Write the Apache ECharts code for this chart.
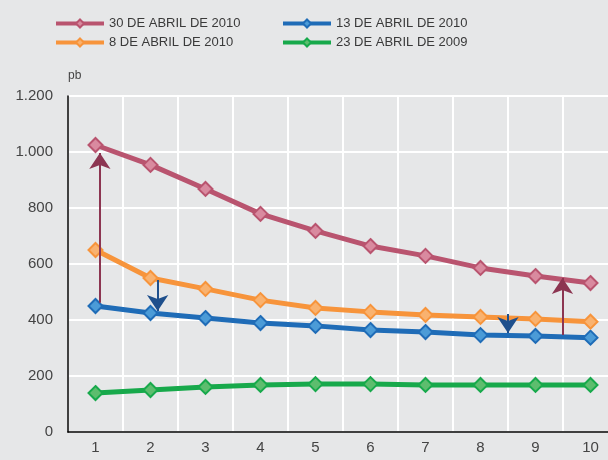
<!DOCTYPE html>
<html>
<head>
<meta charset="utf-8">
<script src="https://cdn.jsdelivr.net/npm/echarts@6/dist/echarts.min.js"></script>
<style>
  html, body { margin: 0; padding: 0; background: #e6e7e8; }
  #chart { width: 608px; height: 460px; }
</style>
</head>
<body>
<div id="chart"></div>
<script>
const categories = ['1', '2', '3', '4', '5', '6', '7', '8', '9', '10'];
const yTicks = [0, 200, 400, 600, 800, 1000, 1200];

const abr30_2010 = [1025, 954, 868, 779, 718, 664, 629, 586, 557, 532];
const abr13_2010 = [450, 425, 407, 389, 379, 364, 357, 346, 343, 337];
const abr8_2010 = [650, 550, 511, 471, 443, 429, 418, 411, 404, 394];
const abr23_2009 = [139, 150, 161, 168, 171, 171, 168, 168, 168, 168];

// arrows: [x, from, to] in category units / pb
const arrowsUp = [[1.08, 462, 996], [9.49, 346, 550]];
const arrowsDown = [[2.13, 543, 432], [8.5, 421, 354]];

const chart = echarts.init(document.getElementById('chart'));

const font = '"Liberation Sans", Arial, sans-serif';

function lineSeries(name, data, color, fill) {
  return {
    name: name,
    type: 'line',
    data: data,
    symbol: 'diamond',
    symbolSize: 14,
    lineStyle: { color: color, width: 5 },
    itemStyle: { color: fill, borderColor: color, borderWidth: 2 },
    z: 3
  };
}

function arrowSeries(list, color) {
  return {
    type: 'lines',
    coordinateSystem: 'cartesian2d',
    xAxisIndex: 1,
    symbol: ['none', 'arrow'],
    symbolSize: [13, 16],
    lineStyle: { color: color, width: 2, opacity: 1 },
    data: list.map(a => ({ coords: [[a[0], a[1]], [a[0], a[2]]] })),
    z: 5
  };
}

function legendAt(name, left, top) {
  return {
    data: [name],
    left: left,
    top: top,
    padding: 0,
    itemWidth: 48,
    itemHeight: 10,
    itemGap: 5,
    lineStyle: { width: 4 },
    textStyle: { fontFamily: font, fontSize: 13, color: '#3a3a3a' }
  };
}

const option = {
  backgroundColor: '#e6e7e8',
  animation: false,
  textStyle: { fontFamily: font },
  legend: [
    legendAt('30 DE ABRIL DE 2010', 54, 17),
    legendAt('13 DE ABRIL DE 2010', 281, 17),
    legendAt('8 DE ABRIL DE 2010', 54, 36),
    legendAt('23 DE ABRIL DE 2009', 281, 36)
  ],
  grid: { left: 68, top: 96, width: 550, bottom: 28, outerBoundsMode: 'none' },
  xAxis: [{
    type: 'category',
    data: categories,
    boundaryGap: true,
    axisLine: { lineStyle: { color: '#000', width: 1.5 } },
    axisTick: { show: false },
    axisLabel: { color: '#444', fontSize: 15, margin: 8 },
    splitLine: { show: true, lineStyle: { color: '#fff', width: 2 } }
  }, {
    type: 'value',
    min: 0.5,
    max: 10.5,
    show: false
  }],
  yAxis: {
    type: 'value',
    min: yTicks[0],
    max: yTicks[yTicks.length - 1],
    interval: 200,
    name: 'pb',
    nameLocation: 'end',
    nameGap: 14,
    nameTextStyle: { color: '#444', fontSize: 12, align: 'left' },
    axisLine: { show: true, lineStyle: { color: '#000', width: 1.5 } },
    axisTick: { show: false },
    axisLabel: {
      color: '#444',
      fontSize: 15,
      margin: 15,
      formatter: v => String(v).replace(/\B(?=(\d{3})+(?!\d))/g, '.')
    },
    splitLine: { show: true, lineStyle: { color: '#fff', width: 2 } }
  },
  series: [
    lineSeries('30 DE ABRIL DE 2010', abr30_2010, '#b9546f', '#d98a9f'),
    lineSeries('13 DE ABRIL DE 2010', abr13_2010, '#1f6cb7', '#4b9bd7'),
    lineSeries('8 DE ABRIL DE 2010', abr8_2010, '#f7943b', '#f9b26f'),
    lineSeries('23 DE ABRIL DE 2009', abr23_2009, '#17a94b', '#5dbd6e'),
    arrowSeries(arrowsUp, '#8c3551'),
    arrowSeries(arrowsDown, '#1e4f8c')
  ]
};

chart.setOption(option);
</script>
</body>
</html>
